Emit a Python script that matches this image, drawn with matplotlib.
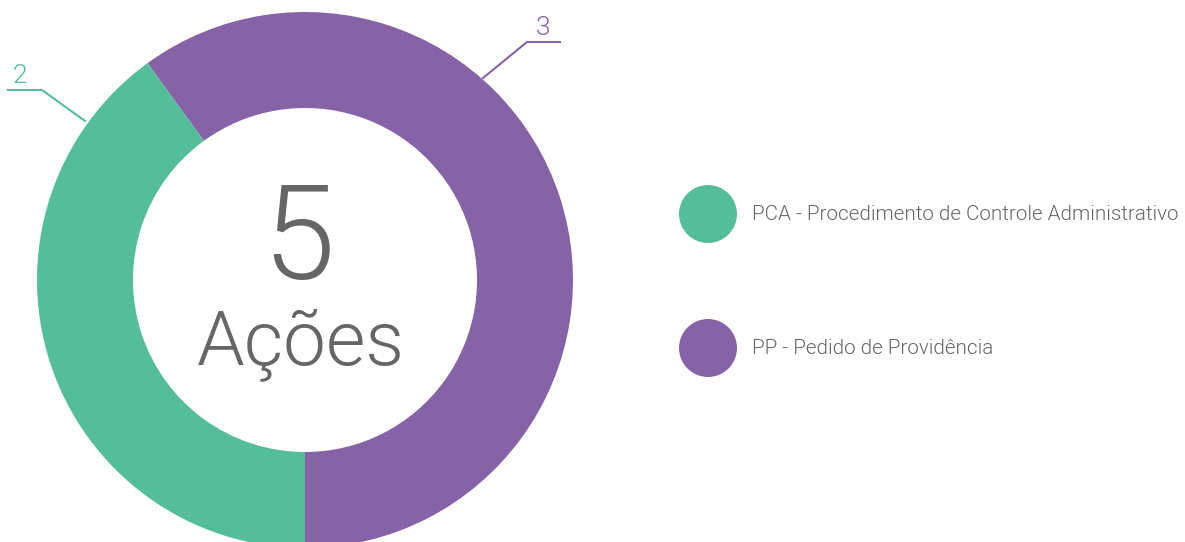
import matplotlib.pyplot as plt
from matplotlib.patches import Circle

labels = ["PCA - Procedimento de Controle Administrativo", "PP - Pedido de Providência"]
valores = [2, 3]
cores = ["#55bd9a", "#8663a6"]
total = sum(valores)
cinza = "#666666"

plt.rcParams['font.family'] = ['Roboto', 'DejaVu Sans']
peso = 300

W, H = 1185, 542
fig = plt.figure(figsize=(W / 100, H / 100), dpi=100)
ax = fig.add_axes([0, 0, 1, 1])

cx, cy = 305, H - 280
# PP first, starting at the bottom, counterclockwise
ax.pie(valores[::-1], colors=cores[::-1], startangle=-90, counterclock=True,
       center=(cx, cy), radius=268, wedgeprops=dict(width=96, linewidth=0),
       frame=True)
ax.set_xlim(0, W)
ax.set_ylim(0, H)
ax.set_aspect('equal')
ax.axis('off')

ax.text(cx - 7, H - 243, str(total), ha='center', va='center', fontsize=94,
        color=cinza, fontweight=peso)
ax.text(cx - 4, H - 345, "Ações", ha='center', va='center', fontsize=55,
        color=cinza, fontweight=peso)

# leader lines
ax.plot([85, 42, 8], [H - 121, H - 90, H - 90], color=cores[0], lw=1.5)
ax.text(20, H - 88, str(valores[0]), ha='center', va='bottom', fontsize=19,
        color=cores[0], fontweight=peso)
ax.plot([483, 527, 560], [H - 78, H - 42, H - 42], color=cores[1], lw=1.5)
ax.text(543, H - 40, str(valores[1]), ha='center', va='bottom', fontsize=19,
        color=cores[1], fontweight=peso)

# legend
for i, (lab, cor) in enumerate(zip(labels, cores)):
    y = H - (214 + 134 * i)
    ax.add_patch(Circle((708, y), 29, color=cor, lw=0))
    ax.text(752, y - 1, lab, ha='left', va='center', fontsize=14.9, color=cinza,
            fontweight=peso)

fig.savefig("out.png", dpi=100)
